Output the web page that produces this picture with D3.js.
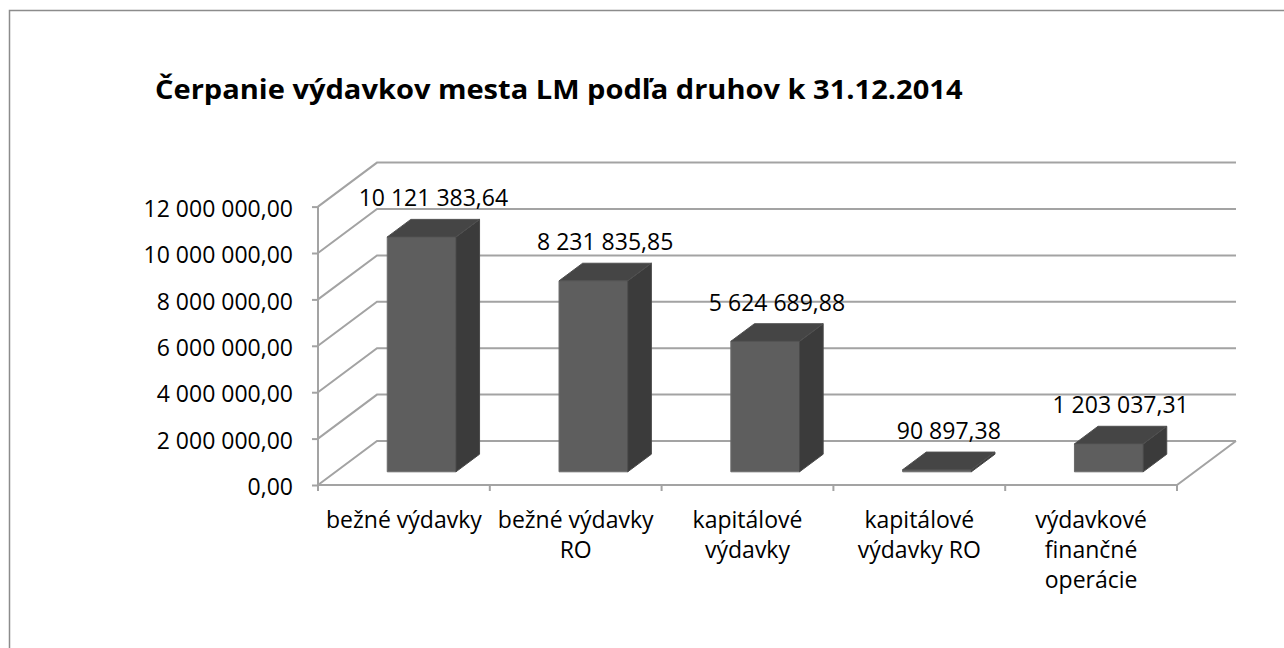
<!DOCTYPE html>
<html>
<head>
<meta charset="utf-8">
<script src="https://cdn.jsdelivr.net/npm/d3@7/dist/d3.min.js"></script>
<style>
  html, body { margin: 0; padding: 0; background: #fff; }
  svg { display: block; }
  text { font-family: "Open Sans", "Noto Sans", sans-serif; fill: #000; }
</style>
</head>
<body>
<svg id="chart" width="1284" height="648"></svg>
<script>
// ---- data ----
const titleText = "Čerpanie výdavkov mesta LM podľa druhov k 31.12.2014";
const categories = ["bežné výdavky", "bežné výdavky RO", "kapitálové výdavky", "kapitálové výdavky RO", "výdavkové finančné operácie"];
const categoryLines = [["bežné výdavky"], ["bežné výdavky", "RO"], ["kapitálové", "výdavky"], ["kapitálové", "výdavky RO"], ["výdavkové", "finančné", "operácie"]];
const values = [10121383.64, 8231835.85, 5624689.88, 90897.38, 1203037.31];
const yTicks = [0, 2000000, 4000000, 6000000, 8000000, 10000000, 12000000];

// ---- layout ----
const svg = d3.select("#chart");
const x0 = 318, x1 = 1177;      // front floor edge
const yBase = 485;              // front zero level
const plotH = 278.4;            // height of 12M at front
const depthX = 59, depthY = 44; // 3D depth offset
const gridColor = "#a3a3a3";
const fs = 23;

const loc = d3.formatLocale({decimal: ",", thousands: "\u00a0", grouping: [3], currency: ["", ""]});
const fmt = loc.format(",.2f");

const xBand = d3.scaleBand().domain(categories).range([x0, x1]).padding(0);
const yFront = d3.scaleLinear().domain([0, 12000000]).range([yBase, yBase - plotH]);

// projection: category-space x, value, depth z (0 front .. 1 back)
function P(x, v, z) {
  return [x + z * depthX, yFront(v) - z * depthY];
}

// border (extends off-canvas like the cropped original)
svg.append("rect").attr("x", 9.5).attr("y", 10.5).attr("width", 1400).attr("height", 800)
  .attr("fill", "none").attr("stroke", "#8c8c8c").attr("stroke-width", 1.5);

// title: bold, horizontally fitted to the original's width
const title = svg.append("text").attr("x", 0).attr("y", 0)
  .attr("font-size", 27).attr("font-weight", "bold")
  .text(titleText);
const tw = title.node().getComputedTextLength();
title.attr("transform", `translate(155,99) scale(${808 / tw},1)`);

const grid = svg.append("g").attr("fill", "none").attr("stroke", gridColor).attr("stroke-width", 2);

// back wall + left wall gridlines
yTicks.forEach(t => {
  const a = P(x0, t, 0), b = P(x0, t, 1), c = P(x1, t, 1);
  grid.append("path").attr("d", `M${a[0]},${a[1]}L${b[0]},${b[1]}L${c[0]},${c[1]}`);
});
// floor outline
{
  const a = P(x0, 0, 0), b = P(x1, 0, 0), c = P(x1, 0, 1);
  grid.append("path").attr("d", `M${a[0]},${a[1]}L${b[0]},${b[1]}L${c[0]},${c[1]}`);
}

// bars
const barFrac = 0.4, zFront = 0.3, zBack = 0.7;
const bars = svg.append("g");
categories.forEach((cat, i) => {
  const v = values[i];
  const bw = xBand.bandwidth();
  const xl = xBand(cat) + bw * (1 - barFrac) / 2;
  const xr = xl + bw * barFrac;
  const fbl = P(xl, 0, zFront), fbr = P(xr, 0, zFront), ftl = P(xl, v, zFront), ftr = P(xr, v, zFront);
  const bbr = P(xr, 0, zBack), btl = P(xl, v, zBack), btr = P(xr, v, zBack);
  const poly = pts => "M" + pts.map(p => p.join(",")).join("L") + "Z";
  const g = bars.append("g").attr("stroke-width", 1).attr("stroke-linejoin", "round");
  g.append("path").attr("d", poly([fbl, fbr, ftr, ftl])).attr("fill", "#5e5e5e").attr("stroke", "#6a6a6a");
  g.append("path").attr("d", poly([fbr, bbr, btr, ftr])).attr("fill", "#3b3b3b").attr("stroke", "#4a4a4a");
  g.append("path").attr("d", poly([ftl, ftr, btr, btl])).attr("fill", "#454545").attr("stroke", "#505050");
  // data label
  const mid = P((xl + xr) / 2, v, 0.5);
  svg.append("text").attr("x", mid[0]).attr("y", btl[1] - 13)
    .attr("text-anchor", "middle").attr("font-size", fs)
    .text(fmt(v));
});

// front y axis
const yAxis = d3.axisLeft(yFront).tickValues(yTicks).tickFormat(fmt).tickSize(6).tickPadding(19);
const ya = svg.append("g").attr("transform", `translate(${x0},0)`).call(yAxis);
ya.select(".domain").attr("stroke", gridColor).attr("stroke-width", 2).attr("d", `M0,${yBase + 6}V${yFront(12000000)}`);
ya.selectAll(".tick line").attr("stroke", gridColor).attr("stroke-width", 2);
ya.selectAll(".tick text").attr("font-size", fs).attr("font-family", "'Open Sans', sans-serif").attr("fill", "#000").attr("dy", "0.42em");

// x ticks
const xt = svg.append("g").attr("stroke", gridColor).attr("stroke-width", 2);
categories.concat([null]).forEach(cat => {
  const xx = cat === null ? x1 : xBand(cat);
  xt.append("line").attr("x1", xx).attr("x2", xx).attr("y1", yBase).attr("y2", yBase + 6);
});

// x labels
categories.forEach((cat, i) => {
  const cx = xBand(cat) + xBand.bandwidth() / 2;
  const t = svg.append("text").attr("text-anchor", "middle").attr("font-size", fs)
    .attr("x", cx).attr("y", 528);
  categoryLines[i].forEach((ln, j) => {
    t.append("tspan").attr("x", cx).attr("dy", j === 0 ? 0 : 30).text(ln);
  });
});
</script>
</body>
</html>
